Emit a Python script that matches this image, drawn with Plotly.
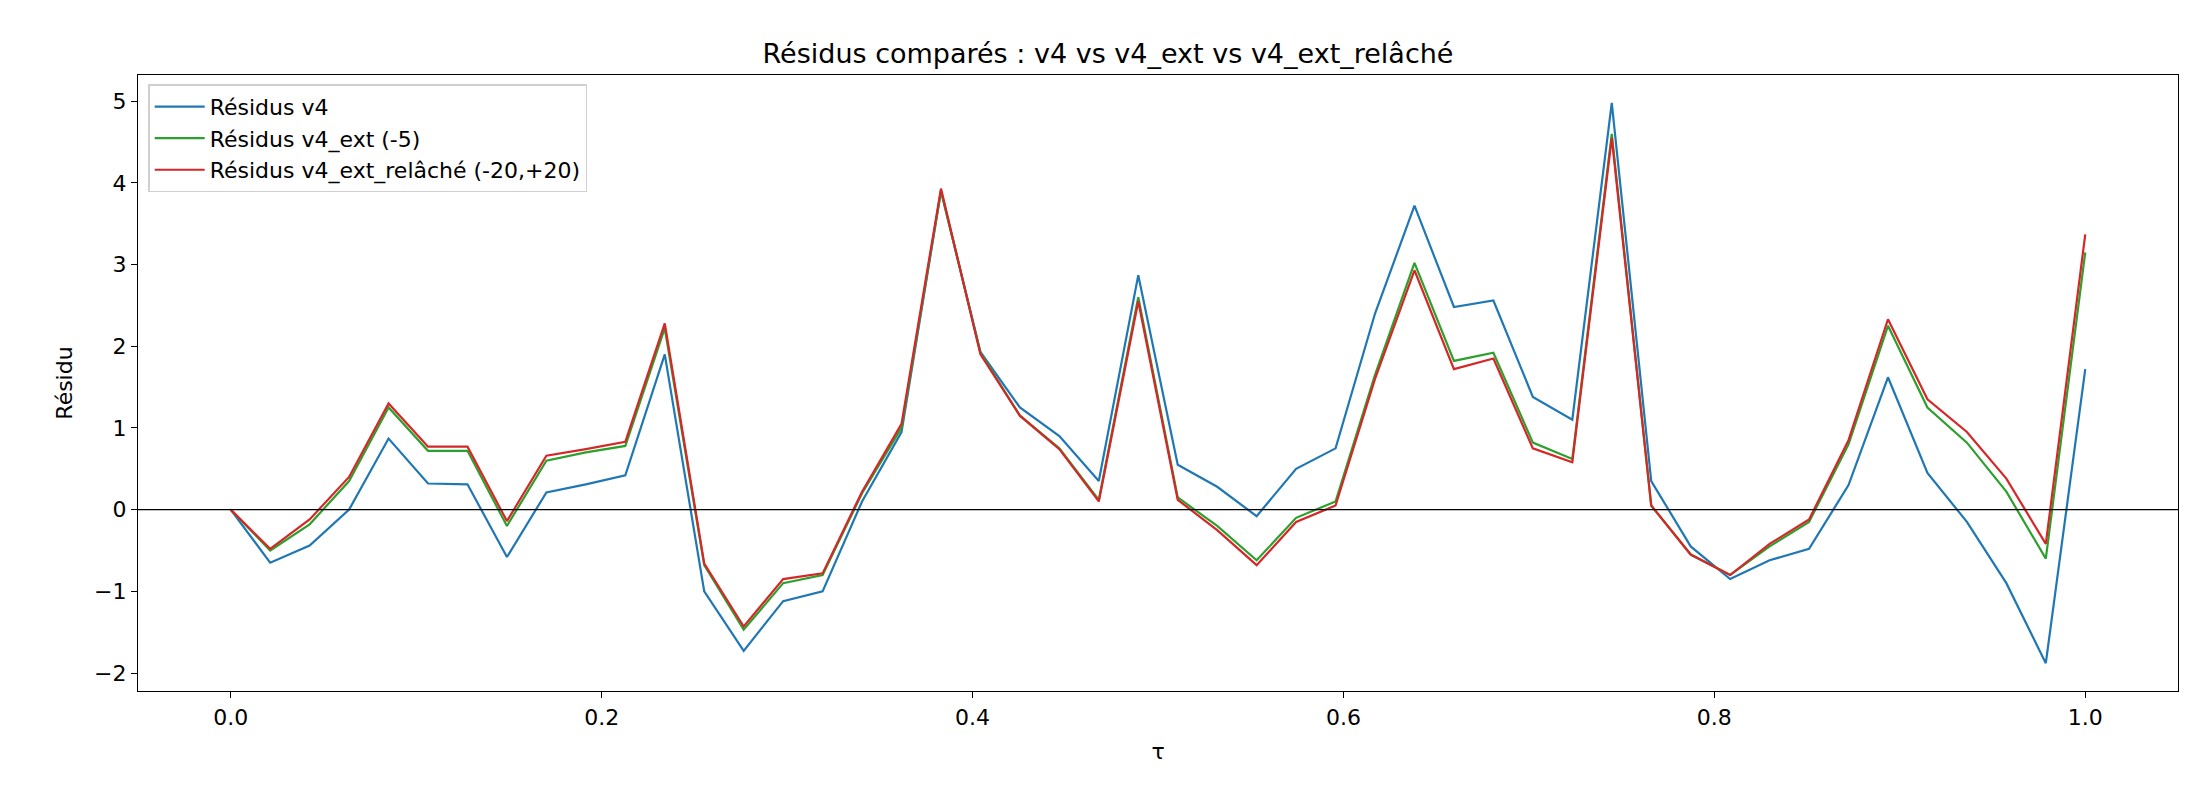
import numpy as np
import plotly.graph_objects as go

tau = np.linspace(0, 1, 48)

res_v4 = [0, -0.65, -0.44, 0.0, 0.87, 0.32, 0.31, -0.58, 0.21, 0.31, 0.42, 1.9,
          -1.0, -1.73, -1.12, -1.0, 0.1, 0.95, 3.9, 1.93, 1.25, 0.9, 0.35, 2.87,
          0.55, 0.28, -0.08, 0.5, 0.75, 2.4, 3.72, 2.48, 2.56, 1.38, 1.1, 4.98,
          0.35, -0.45, -0.85, -0.62, -0.48, 0.3, 1.62, 0.45, -0.15, -0.9, -1.88, 1.72]
res_ext = [0, -0.5, -0.18, 0.35, 1.25, 0.72, 0.72, -0.2, 0.6, 0.7, 0.78, 2.22,
           -0.68, -1.47, -0.9, -0.8, 0.2, 1.0, 3.9, 1.92, 1.15, 0.75, 0.12, 2.6,
           0.15, -0.2, -0.62, -0.1, 0.1, 1.65, 3.02, 1.82, 1.92, 0.82, 0.62, 4.6,
           0.05, -0.55, -0.8, -0.45, -0.15, 0.8, 2.25, 1.25, 0.82, 0.22, -0.6, 3.15]
res_relax = [0, -0.48, -0.12, 0.4, 1.3, 0.77, 0.77, -0.14, 0.66, 0.74, 0.83, 2.28,
             -0.66, -1.43, -0.85, -0.78, 0.22, 1.05, 3.93, 1.9, 1.15, 0.74, 0.1, 2.55,
             0.12, -0.25, -0.68, -0.15, 0.05, 1.6, 2.93, 1.72, 1.85, 0.75, 0.58, 4.55,
             0.05, -0.55, -0.8, -0.42, -0.12, 0.85, 2.33, 1.35, 0.95, 0.38, -0.42, 3.37]

fig = go.Figure()
for y, name, color in [(res_v4, "Résidus v4", "#1f77b4"),
                       (res_ext, "Résidus v4_ext (-5)", "#2ca02c"),
                       (res_relax, "Résidus v4_ext_relâché (-20,+20)", "#d62728")]:
    fig.add_trace(go.Scatter(x=tau, y=y, mode="lines", name=name,
                             line=dict(color=color, width=2.2)))

# zero line
fig.add_hline(y=0, line=dict(color="black", width=1.3))

axis = dict(showgrid=False, zeroline=False, showline=True, linecolor="black",
            linewidth=1.3, mirror=True, ticks="outside", ticklen=6,
            tickcolor="black", tickfont=dict(size=22, color="black"))
fig.update_layout(
    width=2200, height=800,
    plot_bgcolor="white", paper_bgcolor="white",
    font=dict(family="DejaVu Sans", color="black"),
    title=dict(text="Résidus comparés : v4 vs v4_ext vs v4_ext_relâché",
               x=0.5, xanchor="center", y=0.955, font=dict(size=27)),
    margin=dict(l=130, r=30, t=67, b=117),
    xaxis=dict(axis, range=[-0.05, 1.05], tickvals=[0, 0.2, 0.4, 0.6, 0.8, 1.0],
               ticktext=["0.0", "0.2", "0.4", "0.6", "0.8", "1.0"],
               title=dict(text="τ", font=dict(size=22))),
    yaxis=dict(axis, range=[-2.22, 5.32], dtick=1,
               title=dict(text="Résidu", font=dict(size=22))),
    legend=dict(x=0.005, y=0.985, xanchor="left", yanchor="top",
                bgcolor="rgba(255,255,255,0.8)", bordercolor="#d0d0d0",
                borderwidth=1.5, font=dict(size=22), itemwidth=50),
)

fig.write_html("out.html")
